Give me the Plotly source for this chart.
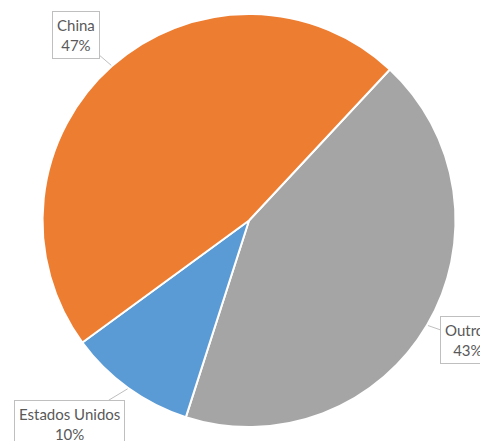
import math
import plotly.graph_objects as go

# Data
labels = ["Outros", "Estados Unidos", "China"]
values = [43, 10, 47]
colors = ["#A5A5A5", "#5B9BD5", "#ED7D31"]
pct_labels = ["43%", "10%", "47%"]

W, H = 480, 433
dom_x = [0.0719, 0.9323]
dom_y = [0.0323, 0.9861]
rotation = 43

fig = go.Figure(go.Pie(
    labels=labels, values=values, sort=False, direction="clockwise",
    rotation=rotation, marker=dict(colors=colors, line=dict(color="white", width=2)),
    textinfo="none", hoverinfo="skip", showlegend=False,
    domain=dict(x=dom_x, y=dom_y),
))

# geometry for label leader tips (slice mid-angles)
cx = W * (dom_x[0] + dom_x[1]) / 2
cy = H * (1 - (dom_y[0] + dom_y[1]) / 2)
r = min(W * (dom_x[1] - dom_x[0]), H * (dom_y[1] - dom_y[0])) / 2 + 1
total = sum(values)
offsets = {"Outros": (40, 14), "Estados Unidos": (-58, 35), "China": (-35, -30)}
cum = 0
for lab, v, p in zip(labels, values, pct_labels):
    mid = math.radians(rotation + 360 * (cum + v / 2) / total)
    cum += v
    tx = cx + r * math.sin(mid)
    ty = cy - r * math.cos(mid)
    ax, ay = offsets[lab]
    fig.add_annotation(
        x=tx / W, y=1 - ty / H, xref="paper", yref="paper",
        text=f"{lab}<br>{p}", showarrow=True, arrowhead=0, arrowwidth=1,
        arrowcolor="#BFBFBF", ax=ax, ay=ay,
        font=dict(family="Lato", size=15, color="#595959"),
        bgcolor="white", bordercolor="#BFBFBF", borderwidth=1, borderpad=4,
        align="center",
    )

fig.update_layout(width=W, height=H, margin=dict(l=0, r=0, t=0, b=0),
                  paper_bgcolor="white", plot_bgcolor="white")
fig.write_html("out.html")
